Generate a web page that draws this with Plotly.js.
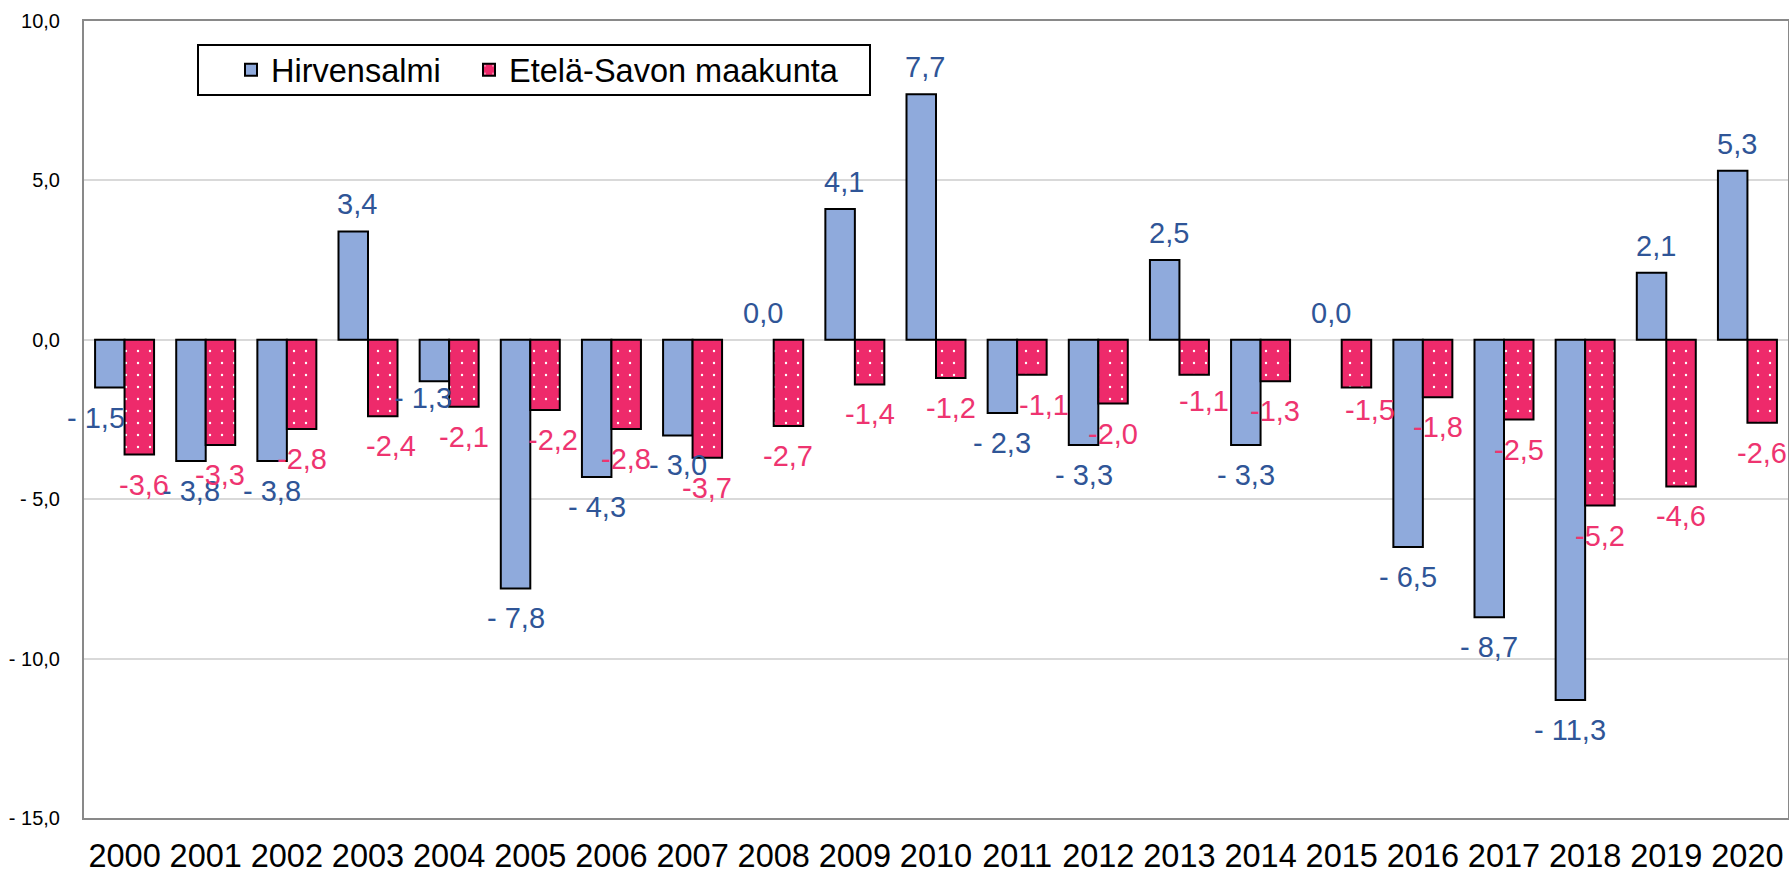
<!DOCTYPE html>
<html>
<head>
<meta charset="utf-8">
<script src="https://cdn.plot.ly/plotly-3.0.1.min.js"></script>
<style>
  html, body { margin: 0; padding: 0; background: #ffffff; }
  #chart { width: 1789px; height: 872px; }
</style>
</head>
<body>
<div id="chart"></div>
<script>
// ---- data ----
const years = [2000, 2001, 2002, 2003, 2004, 2005, 2006, 2007, 2008, 2009, 2010,
               2011, 2012, 2013, 2014, 2015, 2016, 2017, 2018, 2019, 2020];
const hirvensalmi = [-1.5, -3.8, -3.8, 3.4, -1.3, -7.8, -4.3, -3.0, 0.0, 4.1, 7.7,
                     -2.3, -3.3, 2.5, -3.3, 0.0, -6.5, -8.7, -11.3, 2.1, 5.3];
const etelaSavo = [-3.6, -3.3, -2.8, -2.4, -2.1, -2.2, -2.8, -3.7, -2.7, -1.4, -1.2,
                   -1.1, -2.0, -1.1, -1.3, -1.5, -1.8, -2.5, -5.2, -4.6, -2.6];
const seriesNames = ['Hirvensalmi', 'Etelä-Savon maakunta'];
const yTickVals = [-15, -10, -5, 0, 5, 10];
const yTickText = ['- 15,0', '- 10,0', '- 5,0', '0,0', '5,0', '10,0'];

// ---- label nudges (pixels; style only) ----
const blueNudgeX = [-14, 0, 0, 0, -11, 0, 0, 0, 0, 0, 0, 0, 0, 0, 0, 0, 0, 0, 0, 0, 0];
const blueNudgeY = [0, 0, 0, 0, 13, 0, 0, 0, 0, 0, 0, 0, 0, 0, 0, 0, 0, 0, 0, 0, 0];
const pinkNudgeX = [5, 0, 0, 8, 0, 8, 0, 0, 0, 0, 0, 12, 0, 10, 0, 14, 0, 0, 0, 0, 0];
const pinkNudgeY = [0, 0, 0, 0, 0, 0, 0, 0, 0, 0, 0, 0, 0, 4, 0, 8, 0, 0, 0, 0, 0];

// ---- style ----
const FONT = '"Liberation Sans", Arial, sans-serif';
const BLUE = '#8FAADC';
const PINK = '#EE2A6B';
const BLUE_TXT = '#2F5597';
const PINK_TXT = '#EE3470';
const BARGAP = 0.273;
const HALF = (1 - BARGAP) / 4;
const LBL_SIZE = 29;

function fmtBlue(v) {
  const s = Math.abs(v).toFixed(1).replace('.', ',');
  return v < 0 ? '- ' + s : s;
}
function fmtPink(v) {
  const s = Math.abs(v).toFixed(1).replace('.', ',');
  return v < 0 ? '-' + s : s;
}

const traces = [
  {
    type: 'bar', name: seriesNames[0], x: years, y: hirvensalmi, legend: 'legend',
    marker: { color: BLUE, line: { color: '#000000', width: hirvensalmi.map(v => v === 0 ? 0 : 2) } },
    hoverinfo: 'skip'
  },
  {
    type: 'bar', name: seriesNames[1], x: years, y: etelaSavo, legend: 'legend2',
    marker: {
      color: PINK, line: { color: '#000000', width: etelaSavo.map(v => v === 0 ? 0 : 2) },
      pattern: { shape: '.', bgcolor: PINK, fgcolor: '#ffffff', fillmode: 'replace', size: 12, solidity: 0.03 }
    },
    hoverinfo: 'skip'
  }
];

const annotations = [];
years.forEach((yr, i) => {
  const vb = hirvensalmi[i];
  annotations.push({
    x: yr - HALF, y: vb, xref: 'x', yref: 'y', showarrow: false,
    text: fmtBlue(vb), xanchor: 'center', yanchor: 'middle',
    xshift: (vb >= 0 ? 4 : 0) + blueNudgeX[i],
    yshift: (vb >= 0 ? 27 : -30) + blueNudgeY[i],
    font: { family: FONT, size: LBL_SIZE, color: BLUE_TXT }
  });
  const vp = etelaSavo[i];
  annotations.push({
    x: yr + HALF, y: vp, xref: 'x', yref: 'y', showarrow: false,
    text: fmtPink(vp), xanchor: 'center', yanchor: 'middle',
    xshift: pinkNudgeX[i],
    yshift: (vp >= 0 ? 27 : -30) + pinkNudgeY[i],
    font: { family: FONT, size: LBL_SIZE, color: PINK_TXT }
  });
});

const legendCommon = {
  orientation: 'h', xanchor: 'left',
  y: (818 - 70) / 797, yanchor: 'middle',
  bgcolor: 'rgba(0,0,0,0)', borderwidth: 0,
  font: { family: FONT, size: 32.5, color: '#000000' }
};

const layout = {
  width: 1789, height: 872,
  margin: { l: 84, r: 1, t: 21, b: 54, pad: 0 },
  paper_bgcolor: '#ffffff', plot_bgcolor: '#ffffff',
  font: { family: FONT, color: '#000000' },
  barmode: 'group', bargap: BARGAP, bargroupgap: 0,
  showlegend: true,
  legend: Object.assign({}, legendCommon, { x: (231 - 84) / 1704 }),
  legend2: Object.assign({}, legendCommon, { x: (469 - 84) / 1704 }),
  xaxis: {
    type: 'linear', range: [1999.5, 2020.5],
    tickvals: years, ticktext: years.map(String),
    tickfont: { family: FONT, size: 32.5, color: '#000000' },
    ticks: '', ticklabelstandoff: 8,
    showgrid: false, zeroline: false,
    showline: true, linecolor: '#898989', linewidth: 2, mirror: true,
    fixedrange: true
  },
  yaxis: {
    range: [-15, 10], tickvals: yTickVals, ticktext: yTickText,
    tickfont: { family: FONT, size: 20, color: '#000000' },
    ticks: '', ticklabelstandoff: 18,
    showgrid: true, gridcolor: '#D9D9D9', gridwidth: 2,
    zeroline: true, zerolinecolor: '#D9D9D9', zerolinewidth: 2,
    showline: true, linecolor: '#898989', linewidth: 2, mirror: true,
    fixedrange: true
  },
  shapes: [
    {
      type: 'rect', xref: 'paper', yref: 'paper',
      x0: (198 - 84) / 1704, x1: (870 - 84) / 1704,
      y0: (818 - 95) / 797, y1: (818 - 45) / 797,
      line: { color: '#000000', width: 2 }, fillcolor: 'rgba(0,0,0,0)', layer: 'above'
    }
  ],
  annotations: annotations
};

Plotly.newPlot('chart', traces, layout, { displayModeBar: false, staticPlot: true });
</script>
</body>
</html>
